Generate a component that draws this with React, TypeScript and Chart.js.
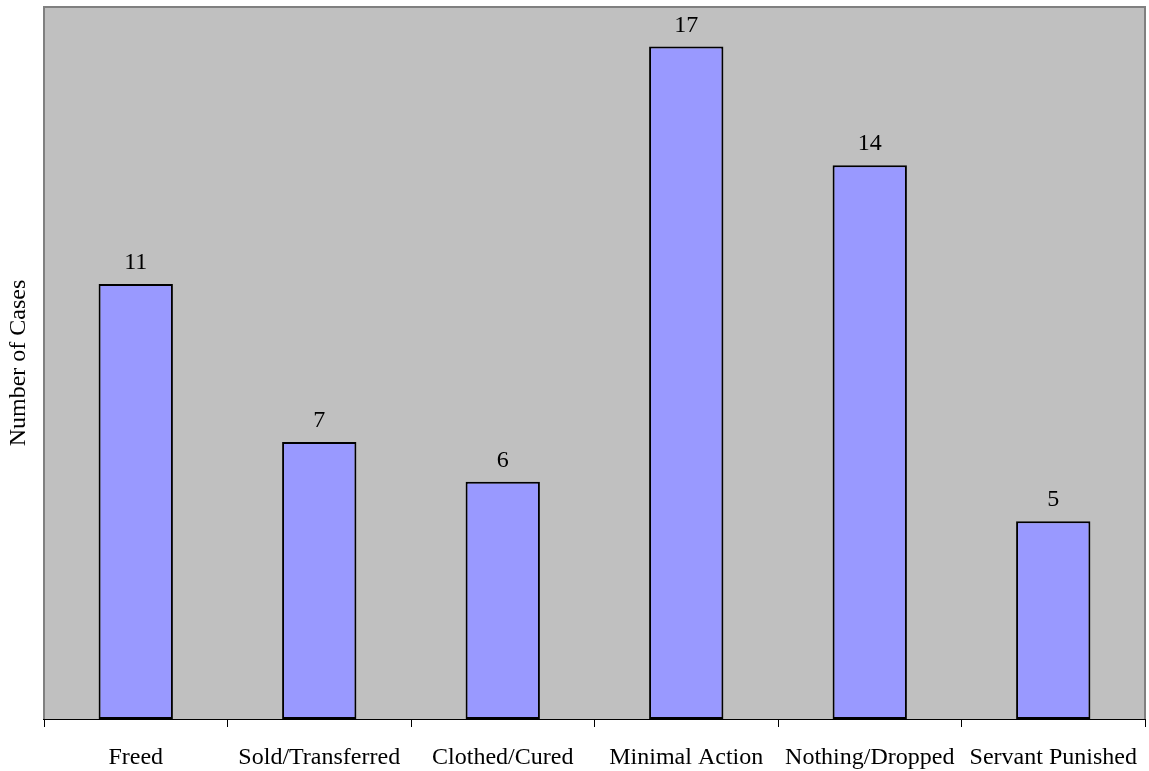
import React, { useEffect, useRef } from "react";
import { Chart, registerables } from "chart.js";

Chart.register(...registerables);

const categories = [
  "Freed",
  "Sold/Transferred",
  "Clothed/Cured",
  "Minimal Action",
  "Nothing/Dropped",
  "Servant Punished",
];
const caseCounts = [11, 7, 6, 17, 14, 5];
const yMax = 18;

const FONT = "'Liberation Serif', 'Times New Roman', serif";

// Grey plot background with a darker frame, plus value labels over each bar.
const plotDecor = {
  id: "plotDecor",
  beforeDatasetsDraw(chart: any) {
    const { ctx, chartArea } = chart;
    const { left, top, right, bottom } = chartArea;
    ctx.save();
    ctx.fillStyle = "#C0C0C0";
    ctx.fillRect(left, top, right - left, bottom - top);
    ctx.strokeStyle = "#808080";
    ctx.lineWidth = 2;
    ctx.beginPath();
    ctx.moveTo(left, bottom);
    ctx.lineTo(left, top);
    ctx.lineTo(right, top);
    ctx.lineTo(right, bottom);
    ctx.stroke();
    ctx.restore();
  },
  afterDatasetsDraw(chart: any) {
    const { ctx } = chart;
    const meta = chart.getDatasetMeta(0);
    const data = chart.data.datasets[0].data as number[];
    ctx.save();
    ctx.fillStyle = "#000";
    ctx.font = `24px ${FONT}`;
    ctx.textAlign = "center";
    ctx.textBaseline = "alphabetic";
    meta.data.forEach((bar: any, i: number) => {
      ctx.fillText(String(data[i]), bar.x, bar.y - 15);
    });
    ctx.restore();
  },
};

export default function App() {
  const canvasRef = useRef<HTMLCanvasElement>(null);

  useEffect(() => {
    if (!canvasRef.current) return;
    const chart = new Chart(canvasRef.current, {
      type: "bar",
      data: {
        labels: categories,
        datasets: [
          {
            data: caseCounts,
            backgroundColor: "#9999FF",
            borderColor: "#000000",
            borderWidth: 2,
            borderSkipped: false,
            categoryPercentage: 1,
            barPercentage: 0.405,
          },
        ],
      },
      options: {
        responsive: false,
        animation: false,
        layout: { padding: { top: 7, right: 4, left: 0, bottom: 0 } },
        plugins: {
          legend: { display: false },
          tooltip: { enabled: false },
        },
        scales: {
          x: {
            offset: true,
            grid: {
              display: true,
              offset: true,
              drawOnChartArea: false,
              drawTicks: true,
              tickLength: 8,
              color: "#000000",
              lineWidth: 1,
            },
            border: { display: true, color: "#000000", width: 2 },
            ticks: {
              color: "#000000",
              font: { family: FONT, size: 24 },
              padding: 16,
              maxRotation: 0,
              autoSkip: false,
            },
            afterFit(scale: any) {
              scale.height = 52;
              scale.paddingLeft = 0;
              scale.paddingRight = 0;
            },
          },
          y: {
            min: 0,
            max: yMax,
            grid: { display: false },
            border: { display: false },
            ticks: { display: false },
            title: {
              display: true,
              text: "Number of Cases",
              color: "#000000",
              font: { family: FONT, size: 24 },
              padding: { top: 4, bottom: 0 },
            },
            afterFit(scale: any) {
              scale.width = 44;
            },
          },
        },
      },
      plugins: [plotDecor],
    });
    return () => chart.destroy();
  }, []);

  return (
    <div style={{ position: "fixed", left: 0, top: 0, width: 1149, height: 771, background: "#fff" }}>
      <canvas ref={canvasRef} width={1149} height={771} style={{ display: "block" }} />
    </div>
  );
}
